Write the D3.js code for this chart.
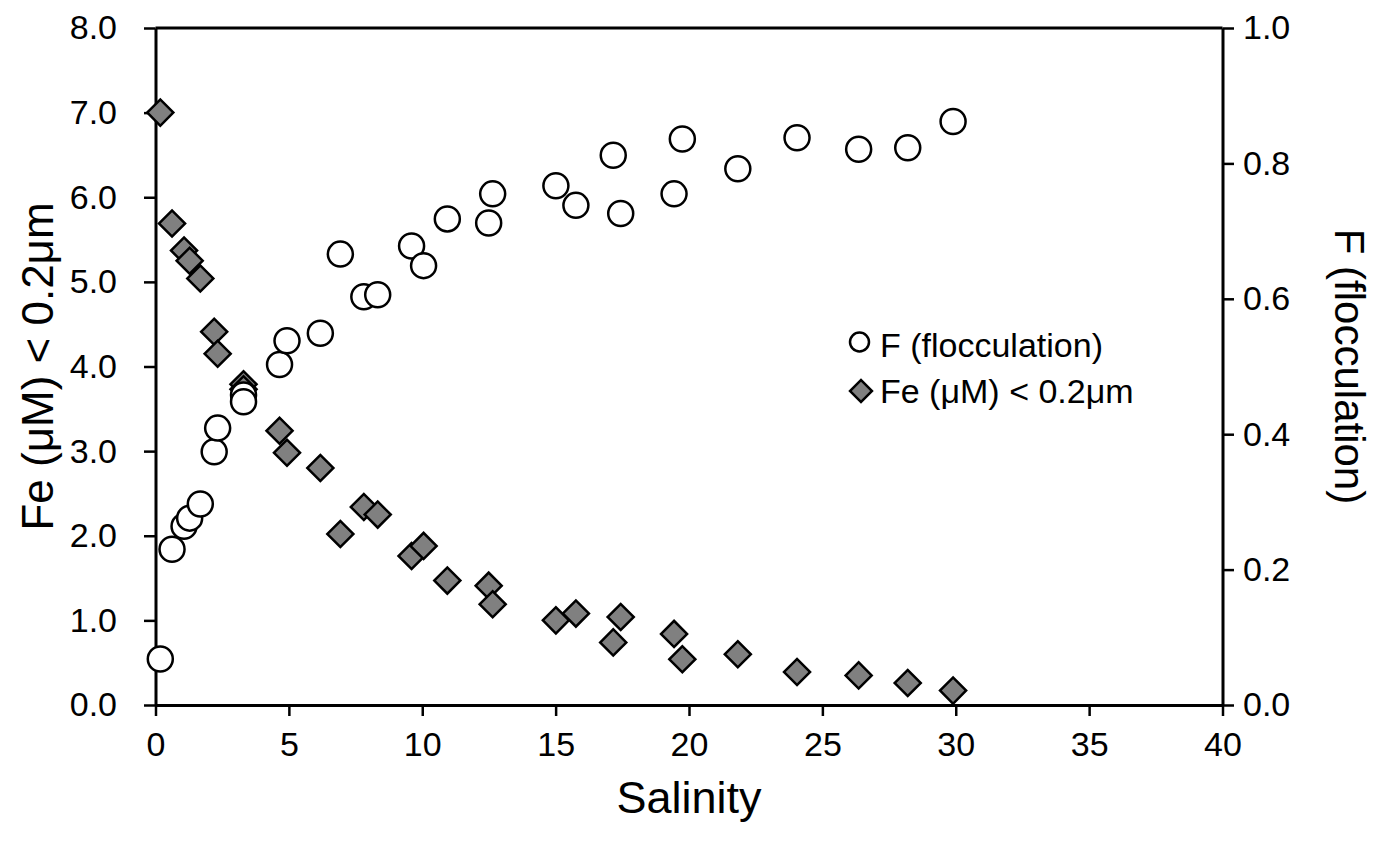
<!DOCTYPE html>
<html>
<head>
<meta charset="utf-8">
<script src="https://cdnjs.cloudflare.com/ajax/libs/d3/7.8.5/d3.min.js"></script>
<style>
    body { margin: 0; background: white; }
    svg text { font-family: "Liberation Sans", Arial, sans-serif; fill: black; }
</style>
</head>
<body>
<svg id="chart" width="1391" height="848"></svg>
<script>
// samples along the salinity gradient
let salinity = [0.18, 0.62, 1.07, 1.28, 1.68, 2.2, 2.33, 3.3, 3.3, 4.65, 4.93, 6.18, 6.93, 7.81, 8.33,
    9.6, 10.05, 10.94, 12.49, 12.64, 15.01, 15.76, 17.16, 17.44, 19.44, 19.75, 21.83, 24.05, 26.36, 28.2, 29.9];
// F (flocculation), right axis
let flocculation = [0.068, 0.230, 0.264, 0.276, 0.297, 0.374, 0.409, 0.458, 0.448, 0.503, 0.538, 0.549, 0.666, 0.603, 0.606,
    0.678, 0.649, 0.718, 0.712, 0.755, 0.767, 0.738, 0.812, 0.726, 0.755, 0.836, 0.792, 0.838, 0.821, 0.823, 0.862];
// Fe (uM) < 0.2um, left axis
let iron = [7.0, 5.69, 5.37, 5.25, 5.04, 4.41, 4.15, 3.79, 3.73, 3.24, 2.98, 2.80, 2.02, 2.34, 2.25,
    1.76, 1.88, 1.47, 1.41, 1.19, 1.00, 1.08, 0.74, 1.04, 0.84, 0.54, 0.60, 0.39, 0.35, 0.26, 0.17];

let xTicks = [0, 5, 10, 15, 20, 25, 30, 35, 40];
let leftTicks = [0, 1, 2, 3, 4, 5, 6, 7, 8];
let rightTicks = [0, 0.2, 0.4, 0.6, 0.8, 1.0];

let legendLabels = ['F (flocculation)', 'Fe (\u03bcM) < 0.2\u03bcm'];

let svg = d3.select('#chart');

let plotLeft = 155.5, plotRight = 1222.5, plotTop = 28, plotBottom = 705;

let xScale = d3.scaleLinear().domain([0, 40]).range([plotLeft, plotRight]);
let yLeft = d3.scaleLinear().domain([0, 8]).range([plotBottom, plotTop]);
let yRight = d3.scaleLinear().domain([0, 1]).range([plotBottom, plotTop]);

function styleAxis(g) {
    g.select('.domain').attr('stroke', 'black').attr('stroke-width', 3);
    g.selectAll('.tick line').attr('stroke', 'black').attr('stroke-width', 2.5);
    g.selectAll('.tick text').style('font-size', '34px');
}

svg.append('g')
    .attr('transform', 'translate(0,' + plotBottom + ')')
    .call(d3.axisBottom(xScale).tickValues(xTicks).tickSize(11).tickSizeOuter(0).tickPadding(16)
        .tickFormat(d3.format('d')))
    .call(styleAxis);

svg.append('g')
    .attr('transform', 'translate(' + plotLeft + ',0)')
    .call(d3.axisLeft(yLeft).tickValues(leftTicks).tickSize(11.5).tickSizeOuter(0).tickPadding(27)
        .tickFormat(d3.format('.1f')))
    .call(styleAxis);

svg.append('g')
    .attr('transform', 'translate(' + plotRight + ',0)')
    .call(d3.axisRight(yRight).tickValues(rightTicks).tickSize(11.5).tickSizeOuter(0).tickPadding(9)
        .tickFormat(d3.format('.1f')))
    .call(styleAxis);

// top frame
svg.append('line')
    .attr('x1', plotLeft).attr('x2', plotRight)
    .attr('y1', plotTop).attr('y2', plotTop)
    .attr('stroke', 'black').attr('stroke-width', 3);

// axis titles
svg.append('text')
    .attr('x', (plotLeft + plotRight) / 2).attr('y', 813)
    .attr('text-anchor', 'middle')
    .style('font-size', '45px')
    .text('Salinity');

svg.append('text')
    .attr('transform', 'translate(53,' + (plotTop + plotBottom) / 2 + ') rotate(-90)')
    .attr('text-anchor', 'middle')
    .style('font-size', '44px')
    .text('Fe (\u03bcM) < 0.2\u03bcm');

svg.append('text')
    .attr('transform', 'translate(1335,' + (plotTop + plotBottom) / 2 + ') rotate(90)')
    .attr('text-anchor', 'middle')
    .style('font-size', '42px')
    .text('F (flocculation)');

let diamond = d3.symbol().type(d3.symbolSquare);

let points = salinity.map(function (s, i) {
    return { s: s, f: flocculation[i], fe: iron[i] };
});

// diamonds sit under the circles
svg.append('g').selectAll('path')
    .data(points)
    .enter().append('path')
    .attr('d', diamond.size(340))
    .attr('transform', function (d) {
        return 'translate(' + xScale(d.s) + ',' + yLeft(d.fe) + ') rotate(45)';
    })
    .attr('fill', '#808080')
    .attr('stroke', 'black')
    .attr('stroke-width', 2.5);

svg.append('g').selectAll('circle')
    .data(points)
    .enter().append('circle')
    .attr('cx', function (d) { return xScale(d.s); })
    .attr('cy', function (d) { return yRight(d.f); })
    .attr('r', 12.5)
    .attr('fill', 'white')
    .attr('stroke', 'black')
    .attr('stroke-width', 2.5);

// legend
let legend = svg.append('g');
legend.append('circle')
    .attr('cx', 859.5).attr('cy', 342).attr('r', 9.5)
    .attr('fill', 'white').attr('stroke', 'black').attr('stroke-width', 2.5);
legend.append('path')
    .attr('d', d3.symbol().type(d3.symbolSquare).size(240)())
    .attr('transform', 'translate(861,391) rotate(45)')
    .attr('fill', '#808080').attr('stroke', 'black').attr('stroke-width', 2.5);
legend.selectAll('text')
    .data(legendLabels)
    .enter().append('text')
    .attr('x', 880)
    .attr('y', function (d, i) { return 357 + i * 46; })
    .style('font-size', '34px')
    .text(function (d) { return d; });
</script>
</body>
</html>
